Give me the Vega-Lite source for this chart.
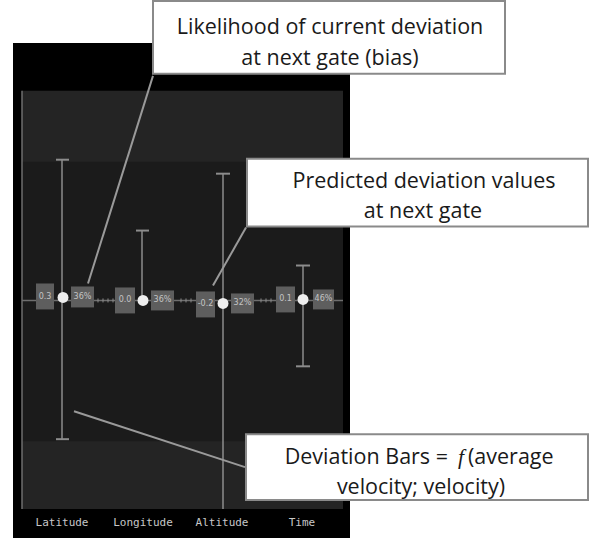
{
  "$schema": "https://vega.github.io/schema/vega-lite/v6.json",
  "autosize": {"type": "fit", "contains": "padding"},
  "width": 589,
  "height": 538,
  "padding": 0,
  "background": "white",
  "config": {"view": {"stroke": null}},
  "datasets": {
    "frame": [{"x": 13, "x2": 350, "y": 42, "y2": 538}],
    "panel": [{"x": 22, "x2": 343, "y": 90, "y2": 509}],
    "band": [{"x": 22, "x2": 343, "y": 161, "y2": 441}],
    "axisLines": [
      {"x": 22, "x2": 22, "y": 90, "y2": 509},
      {"x": 22, "x2": 343, "y": 300, "y2": 300}
    ],
    "bars": [
      {"variable": "Latitude", "x": 62, "x2": 62, "y": 159, "y2": 439},
      {"variable": "Longitude", "x": 142, "x2": 142, "y": 230, "y2": 300},
      {"variable": "Altitude", "x": 223, "x2": 223, "y": 173, "y2": 509},
      {"variable": "Time", "x": 303, "x2": 303, "y": 265, "y2": 366}
    ],
    "caps": [
      {"x": 56, "x2": 69, "y": 159, "y2": 159},
      {"x": 56, "x2": 69, "y": 439, "y2": 439},
      {"x": 136, "x2": 149, "y": 230, "y2": 230},
      {"x": 216, "x2": 230, "y": 173, "y2": 173},
      {"x": 296, "x2": 310, "y": 265, "y2": 265},
      {"x": 296, "x2": 310, "y": 366, "y2": 366}
    ],
    "ticks": [
      {"x": 98, "x2": 98, "y": 298, "y2": 302},
      {"x": 103, "x2": 103, "y": 298, "y2": 302},
      {"x": 108, "x2": 108, "y": 298, "y2": 302},
      {"x": 113, "x2": 113, "y": 298, "y2": 302},
      {"x": 181, "x2": 181, "y": 298, "y2": 302},
      {"x": 186, "x2": 186, "y": 298, "y2": 302},
      {"x": 191, "x2": 191, "y": 298, "y2": 302},
      {"x": 261, "x2": 261, "y": 298, "y2": 302},
      {"x": 266, "x2": 266, "y": 298, "y2": 302},
      {"x": 271, "x2": 271, "y": 298, "y2": 302}
    ],
    "boxes": [
      {"label": "0.3", "x": 36, "x2": 54, "y": 283, "y2": 309, "tx": 45, "ty": 297},
      {"label": "36%", "x": 71, "x2": 94, "y": 286, "y2": 307, "tx": 82.5, "ty": 297},
      {"label": "0.0", "x": 115, "x2": 135, "y": 287, "y2": 313, "tx": 125, "ty": 300},
      {"label": "36%", "x": 151, "x2": 174, "y": 290, "y2": 310, "tx": 162.5, "ty": 300},
      {"label": "-0.2", "x": 196, "x2": 215, "y": 291, "y2": 317, "tx": 205.5, "ty": 304},
      {"label": "32%", "x": 231, "x2": 254, "y": 293, "y2": 313, "tx": 242.5, "ty": 303},
      {"label": "0.1", "x": 276, "x2": 295, "y": 286, "y2": 312, "tx": 285.5, "ty": 299},
      {"label": "46%", "x": 313, "x2": 334, "y": 289, "y2": 309, "tx": 323.5, "ty": 299}
    ],
    "dots": [
      {"variable": "Latitude", "x": 63, "y": 297},
      {"variable": "Longitude", "x": 143, "y": 300},
      {"variable": "Altitude", "x": 223, "y": 303},
      {"variable": "Time", "x": 303, "y": 299}
    ],
    "axisLabels": [
      {"label": "Latitude", "x": 62, "y": 523},
      {"label": "Longitude", "x": 143, "y": 523},
      {"label": "Altitude", "x": 222, "y": 523},
      {"label": "Time", "x": 302, "y": 523}
    ],
    "leaders": [
      {"x": 153, "x2": 88, "y": 75, "y2": 283},
      {"x": 246, "x2": 213, "y": 227, "y2": 285},
      {"x": 245, "x2": 74, "y": 467, "y2": 411}
    ],
    "callouts": [
      {"x": 153, "x2": 505, "y": 0, "y2": 73},
      {"x": 247, "x2": 588, "y": 158, "y2": 226},
      {"x": 246, "x2": 588, "y": 434, "y2": 500}
    ],
    "calloutText": [
      {"text": "Likelihood of current deviation", "x": 330, "y": 27},
      {"text": "at next gate (bias)", "x": 330, "y": 58},
      {"text": "Predicted deviation values", "x": 424, "y": 181},
      {"text": "at next gate", "x": 423, "y": 211},
      {"text": "velocity; velocity)", "x": 421, "y": 488}
    ],
    "calloutLeft": [
      {"text": "Deviation Bars =", "x": 448, "y": 458}
    ],
    "calloutItalic": [
      {"text": "f", "x": 461, "y": 458}
    ],
    "calloutRight": [
      {"text": "(average", "x": 468, "y": 458}
    ]
  },
  "encoding": {
    "x": {"field": "x", "type": "quantitative", "scale": {"domain": [0, 589], "nice": false, "zero": false}, "axis": null},
    "y": {"field": "y", "type": "quantitative", "scale": {"domain": [0, 538], "reverse": true, "nice": false, "zero": false}, "axis": null}
  },
  "layer": [
    {"data": {"name": "frame"}, "mark": {"type": "rect", "fill": "#000000"}, "encoding": {"x2": {"field": "x2"}, "y2": {"field": "y2"}}},
    {"data": {"name": "panel"}, "mark": {"type": "rect", "fill": "#242424"}, "encoding": {"x2": {"field": "x2"}, "y2": {"field": "y2"}}},
    {"data": {"name": "band"}, "mark": {"type": "rect", "fill": "#1b1b1b"}, "encoding": {"x2": {"field": "x2"}, "y2": {"field": "y2"}}},
    {"data": {"name": "axisLines"}, "mark": {"type": "rule", "color": "#6e6e6e", "strokeWidth": 1.5}, "encoding": {"x2": {"field": "x2"}, "y2": {"field": "y2"}}},
    {"data": {"name": "ticks"}, "mark": {"type": "rule", "color": "#8a8a8a", "strokeWidth": 1}, "encoding": {"x2": {"field": "x2"}, "y2": {"field": "y2"}}},
    {"data": {"name": "bars"}, "mark": {"type": "rule", "color": "#8c8c8c", "strokeWidth": 1.5}, "encoding": {"x2": {"field": "x2"}, "y2": {"field": "y2"}}},
    {"data": {"name": "caps"}, "mark": {"type": "rule", "color": "#8c8c8c", "strokeWidth": 2}, "encoding": {"x2": {"field": "x2"}, "y2": {"field": "y2"}}},
    {"data": {"name": "boxes"}, "mark": {"type": "rect", "fill": "#5e5e5e"}, "encoding": {"x2": {"field": "x2"}, "y2": {"field": "y2"}}},
    {"data": {"name": "boxes"}, "mark": {"type": "text", "color": "#c4c4c4", "fontSize": 8, "font": "DejaVu Sans", "baseline": "middle", "align": "center"}, "encoding": {"x": {"field": "tx", "type": "quantitative"}, "y": {"field": "ty", "type": "quantitative"}, "text": {"field": "label"}}},
    {"data": {"name": "dots"}, "mark": {"type": "point", "filled": true, "color": "#eeeeee", "opacity": 1, "size": 120}},
    {"data": {"name": "axisLabels"}, "mark": {"type": "text", "color": "#c8c8c8", "fontSize": 11, "font": "DejaVu Sans Mono", "baseline": "middle", "align": "center"}, "encoding": {"text": {"field": "label"}}},
    {"data": {"name": "leaders"}, "mark": {"type": "rule", "color": "#9a9a9a", "strokeWidth": 2}, "encoding": {"x2": {"field": "x2"}, "y2": {"field": "y2"}}},
    {"data": {"name": "callouts"}, "mark": {"type": "rect", "fill": "#ffffff", "stroke": "#8a8a8a", "strokeWidth": 2}, "encoding": {"x2": {"field": "x2"}, "y2": {"field": "y2"}}},
    {"data": {"name": "calloutText"}, "mark": {"type": "text", "color": "#1a1a1a", "fontSize": 21.5, "font": "Open Sans", "baseline": "middle", "align": "center"}, "encoding": {"text": {"field": "text"}}},
    {"data": {"name": "calloutLeft"}, "mark": {"type": "text", "color": "#1a1a1a", "fontSize": 21.5, "font": "Open Sans", "baseline": "middle", "align": "right"}, "encoding": {"text": {"field": "text"}}},
    {"data": {"name": "calloutItalic"}, "mark": {"type": "text", "color": "#1a1a1a", "fontSize": 21.5, "font": "Liberation Serif", "fontStyle": "italic", "baseline": "middle", "align": "center"}, "encoding": {"text": {"field": "text"}}},
    {"data": {"name": "calloutRight"}, "mark": {"type": "text", "color": "#1a1a1a", "fontSize": 21.5, "font": "Open Sans", "baseline": "middle", "align": "left"}, "encoding": {"text": {"field": "text"}}}
  ]
}
